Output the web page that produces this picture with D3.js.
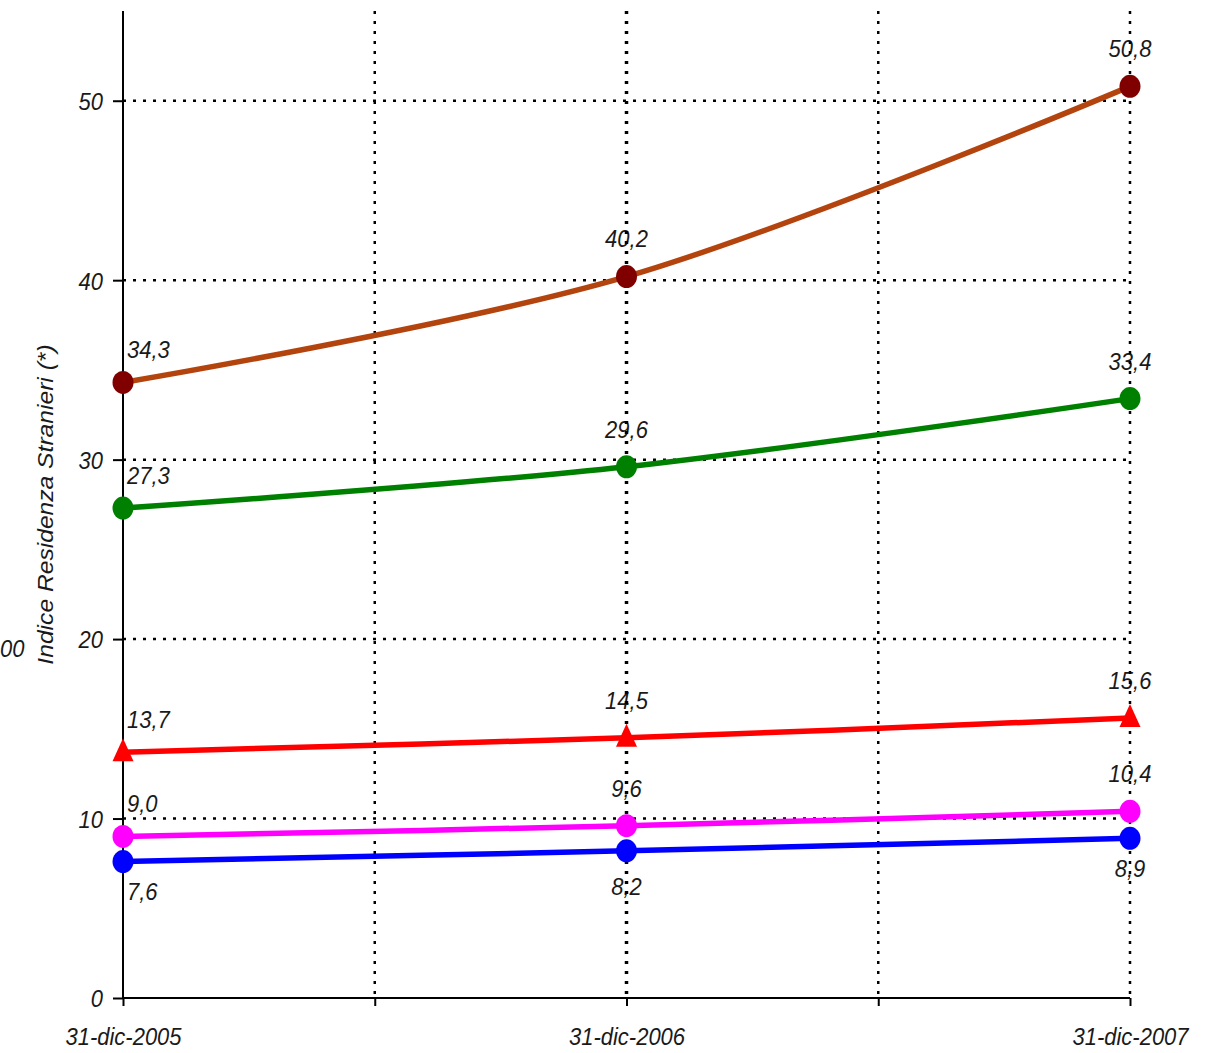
<!DOCTYPE html>
<html><head><meta charset="utf-8">
<script src="https://cdn.jsdelivr.net/npm/d3@7"></script>
<style>
html,body{margin:0;padding:0;background:#fff;}
svg{display:block;}
text{font-family:"Liberation Sans",Arial,sans-serif;font-style:italic;fill:#1a1a1a;}
</style></head>
<body>
<script>
const categories = ["31-dic-2005", "31-dic-2006", "31-dic-2007"];
const seriesBrown = [34.3, 40.2, 50.8];
const seriesGreen = [27.3, 29.6, 33.4];
const seriesRed = [13.7, 14.5, 15.6];
const seriesMagenta = [9.0, 9.6, 10.4];
const seriesBlue = [7.6, 8.2, 8.9];
const yTicks = [0, 10, 20, 30, 40, 50];
const yTitle = "Indice Residenza Stranieri (*)";

const W = 1216, H = 1053;
const SY = 1.12; // vertical stretch of the text seen in the reference
const svg = d3.select("body").append("svg").attr("width", W).attr("height", H);

const x = d3.scaleLinear().domain([0, 2]).range([123, 1130]);
const y = d3.scaleLinear().domain([0, 55]).range([998, 11]);

const series = [
  {vals: seriesBrown, line: "#b3440e", mark: "#800000", shape: "circle", below: false},
  {vals: seriesGreen, line: "#008000", mark: "#008000", shape: "circle", below: false},
  {vals: seriesRed, line: "#ff0000", mark: "#ff0000", shape: "triangle", below: false},
  {vals: seriesMagenta, line: "#ff00ff", mark: "#ff00ff", shape: "circle", below: false},
  {vals: seriesBlue, line: "#0000ff", mark: "#0000ff", shape: "circle", below: true}
];

const fmt = v => d3.format(".1f")(v).replace(".", ",");

// data labels (drawn under grid)
const gl = svg.append("g");
series.forEach(s => {
  s.vals.forEach((v, i) => {
    const off = s.below ? (i === 1 ? 35 : 30) : (i === 0 ? -33 : -38);
    gl.append("g")
      .attr("transform", `translate(${i === 0 ? x(i) + 4 : x(i)},${y(v) + off}) scale(1,${SY})`)
      .append("text")
      .attr("dy", "0.36em")
      .attr("text-anchor", i === 0 ? "start" : "middle")
      .attr("font-size", 22)
      .text(fmt(v));
  });
});

// grid
const grid = svg.append("g").attr("stroke", "#000").attr("fill", "none");
yTicks.filter(t => t > 0).forEach(t => {
  grid.append("line").attr("x1", x(0)).attr("x2", x(2)).attr("y1", y(t)).attr("y2", y(t))
    .attr("stroke-width", 2.5).attr("stroke-dasharray", "3,7");
});
[0.5, 1, 1.5, 2].forEach(t => {
  grid.append("line").attr("x1", x(t)).attr("x2", x(t)).attr("y1", y(55)).attr("y2", y(0))
    .attr("stroke-width", t === 1 ? 3.5 : 2.5).attr("stroke-dasharray", "3,7");
});

// axes
const yAxis = svg.append("g").attr("transform", `translate(${x(0)},0)`)
  .call(d3.axisLeft(y).tickValues(yTicks).tickSize(10).tickPadding(10).tickFormat(d => d));
yAxis.select(".domain").attr("d", `M0,${y(55)}V${y(0)}`).attr("stroke-width", 2);
yAxis.selectAll(".tick line").attr("stroke-width", 2);
yAxis.selectAll(".tick text").attr("font-size", 22).attr("dy", "0.36em")
  .attr("transform", `scale(1,${SY})`)
  .attr("font-family", "Liberation Sans, Arial, sans-serif").style("font-style", "italic").attr("fill", "#1a1a1a");

const xAxis = svg.append("g").attr("transform", `translate(0,${y(0)})`)
  .call(d3.axisBottom(x).tickValues([0, 0.5, 1, 1.5, 2]).tickSize(8).tickPadding(18)
    .tickFormat(d => Number.isInteger(d) ? categories[d] : ""));
xAxis.select(".domain").attr("d", `M${x(0)},0H${x(2)}`).attr("stroke-width", 2);
xAxis.selectAll(".tick line").attr("stroke-width", 2);
xAxis.selectAll(".tick text").attr("font-size", 22)
  .attr("transform", `scale(1,${SY})`)
  .attr("font-family", "Liberation Sans, Arial, sans-serif").style("font-style", "italic").attr("fill", "#1a1a1a");

// y title
svg.append("g")
  .attr("transform", `translate(45,${(y(0)+y(55))/2}) scale(1,${SY}) rotate(-90)`)
  .append("text")
  .attr("text-anchor", "middle")
  .attr("dy", "0.36em")
  .attr("font-size", 22)
  .text(yTitle);
svg.append("g").attr("transform", `translate(0,648) scale(1,${SY})`)
  .append("text").attr("dy", "0.36em").attr("font-size", 22).text("00");

// lines
const line = d3.line().x((d, i) => x(i)).y(d => y(d)).curve(d3.curveCatmullRom.alpha(0.5));
const gL = svg.append("g");
series.forEach(s => {
  gL.append("path").attr("d", line(s.vals)).attr("fill", "none")
    .attr("stroke", s.line).attr("stroke-width", 5.5).attr("stroke-linejoin", "round");
});
// markers
const gM = svg.append("g");
series.forEach(s => {
  s.vals.forEach((v, i) => {
    if (s.shape === "circle") {
      gM.append("ellipse").attr("cx", x(i)).attr("cy", y(v)).attr("rx", 10.5).attr("ry", 11.5).attr("fill", s.mark);
    } else {
      gM.append("path").attr("transform", `translate(${x(i)},${y(v)})`)
        .attr("d", "M0,-14L10.5,9L-10.5,9Z").attr("fill", s.mark);
    }
  });
});
</script>
</body></html>
